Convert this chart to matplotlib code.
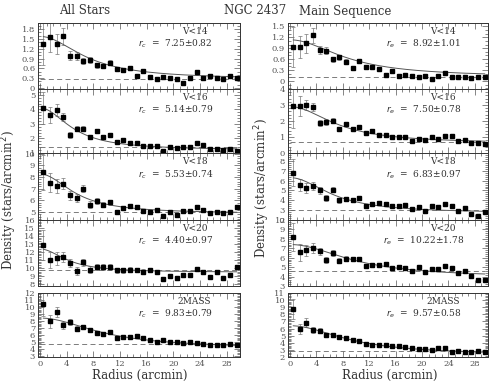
import numpy as np
import matplotlib
matplotlib.use("Agg")
import matplotlib.pyplot as plt
from matplotlib.ticker import MultipleLocator, AutoMinorLocator, FuncFormatter

# radial bins (arcmin)
radius = np.arange(30) + 0.5

# ---- All stars ----
all14 = [1.35, 1.56, 1.35, 1.58, 0.99, 0.97, 0.83, 0.86, 0.69, 0.68, 0.78, 0.58, 0.54, 0.61, 0.38,
         0.51, 0.34, 0.28, 0.33, 0.31, 0.28, 0.15, 0.32, 0.48, 0.32, 0.38, 0.31, 0.29, 0.36, 0.31]
all14_err = [0.65, 0.45, 0.3, 0.25, 0.13, 0.12, 0.1, 0.09, 0.08, 0.07, 0.07, 0.06, 0.06, 0.06, 0.05,
             0.05, 0.05, 0.04, 0.04, 0.04, 0.04, 0.03, 0.04, 0.04, 0.04, 0.04, 0.03, 0.03, 0.03, 0.03]
all16 = [4.12, 3.64, 3.95, 3.47, 2.24, 2.67, 2.67, 2.07, 2.48, 2.12, 2.27, 1.78, 1.88, 1.71, 1.71,
         1.47, 1.47, 1.47, 1.11, 1.40, 1.35, 1.42, 1.42, 1.66, 1.52, 1.30, 1.30, 1.23, 1.28, 1.11]
all16_err = [1.1, 0.55, 0.4, 0.3, 0.2, 0.18, 0.16, 0.14, 0.13, 0.12, 0.11, 0.1, 0.1, 0.09, 0.09,
             0.08, 0.08, 0.08, 0.07, 0.07, 0.07, 0.07, 0.07, 0.07, 0.06, 0.06, 0.06, 0.06, 0.06, 0.06]
all18 = [8.38, 7.50, 7.26, 7.43, 6.43, 6.20, 7.00, 5.63, 5.91, 5.63, 5.83, 5.00, 5.34, 5.48, 5.43,
         5.11, 4.97, 5.14, 4.63, 4.97, 4.69, 5.11, 5.11, 5.43, 5.20, 4.91, 4.97, 4.86, 4.97, 5.43]
all18_err = [1.5, 0.8, 0.6, 0.5, 0.4, 0.35, 0.3, 0.28, 0.25, 0.23, 0.22, 0.2, 0.19, 0.18, 0.17,
             0.16, 0.16, 0.15, 0.15, 0.14, 0.14, 0.14, 0.13, 0.13, 0.13, 0.12, 0.12, 0.12, 0.12, 0.12]
all20 = [12.9, 11.0, 11.27, 11.4, 10.65, 9.7, 10.73, 9.83, 10.16, 10.16, 10.16, 9.74, 9.74, 9.83, 9.74,
         9.6, 9.74, 9.6, 8.7, 9.1, 8.8, 9.2, 9.2, 9.9, 9.6, 8.93, 9.6, 8.8, 9.2, 10.16]
all20_err = [1.9, 1.0, 0.8, 0.65, 0.55, 0.5, 0.45, 0.4, 0.37, 0.34, 0.32, 0.3, 0.28, 0.27, 0.26,
             0.25, 0.24, 0.23, 0.22, 0.21, 0.21, 0.2, 0.2, 0.19, 0.19, 0.18, 0.18, 0.18, 0.17, 0.17]
all2m = [10.36, 7.94, 9.3, 7.38, 7.84, 6.84, 7.16, 6.62, 6.25, 6.16, 6.34, 5.56, 5.7, 5.7, 5.79,
         5.47, 5.24, 5.0, 5.19, 5.0, 4.97, 4.78, 4.97, 4.88, 4.64, 4.56, 4.52, 4.52, 4.64, 4.52]
all2m_err = [1.6, 0.9, 0.7, 0.5, 0.4, 0.35, 0.3, 0.27, 0.24, 0.22, 0.2, 0.18, 0.17, 0.16, 0.15,
             0.14, 0.14, 0.13, 0.12, 0.12, 0.12, 0.11, 0.11, 0.1, 0.1, 0.1, 0.1, 0.1, 0.09, 0.09]

# ---- Main sequence ----
ms14 = [0.94, 0.94, 1.03, 1.25, 0.85, 0.83, 0.59, 0.65, 0.53, 0.35, 0.55, 0.39, 0.39, 0.33, 0.16,
        0.28, 0.14, 0.16, 0.14, 0.10, 0.14, 0.05, 0.14, 0.23, 0.10, 0.10, 0.12, 0.09, 0.10, 0.10]
ms14_err = [0.55, 0.3, 0.25, 0.2, 0.12, 0.1, 0.08, 0.07, 0.06, 0.05, 0.05, 0.05, 0.04, 0.04, 0.03,
            0.03, 0.03, 0.03, 0.03, 0.02, 0.02, 0.02, 0.02, 0.02, 0.02, 0.02, 0.02, 0.02, 0.02, 0.02]
ms16 = [2.94, 2.94, 3.0, 2.86, 1.88, 1.94, 2.02, 1.47, 1.82, 1.51, 1.61, 1.27, 1.37, 1.12, 1.12,
        1.02, 1.02, 1.02, 0.75, 0.90, 0.82, 1.0, 0.90, 1.06, 1.06, 0.75, 0.82, 0.61, 0.60, 0.55]
ms16_err = [1.4, 0.6, 0.3, 0.25, 0.18, 0.16, 0.14, 0.12, 0.11, 0.1, 0.09, 0.08, 0.08, 0.07, 0.07,
            0.06, 0.06, 0.06, 0.05, 0.05, 0.05, 0.05, 0.05, 0.05, 0.05, 0.04, 0.04, 0.04, 0.04, 0.04]
ms18 = [6.82, 5.58, 5.24, 5.47, 5.0, 4.23, 5.07, 3.99, 4.13, 3.99, 4.23, 3.38, 3.66, 3.73, 3.66,
        3.45, 3.45, 3.5, 3.12, 3.32, 2.88, 3.45, 3.32, 3.62, 3.38, 2.88, 3.22, 2.65, 2.44, 2.78]
ms18_err = [1.4, 0.6, 0.5, 0.4, 0.35, 0.3, 0.27, 0.24, 0.22, 0.2, 0.19, 0.18, 0.17, 0.16, 0.15,
            0.14, 0.14, 0.13, 0.13, 0.12, 0.12, 0.12, 0.11, 0.11, 0.11, 0.1, 0.1, 0.1, 0.1, 0.1]
ms20 = [8.2, 6.6, 6.77, 7.02, 6.67, 5.77, 6.49, 5.7, 5.88, 5.88, 5.88, 5.16, 5.23, 5.23, 5.34,
        4.87, 5.05, 4.87, 4.62, 4.98, 4.44, 4.8, 4.8, 5.16, 4.91, 4.33, 4.62, 4.09, 3.66, 3.66]
ms20_err = [1.5, 0.9, 0.6, 0.5, 0.4, 0.35, 0.3, 0.27, 0.25, 0.23, 0.21, 0.2, 0.19, 0.18, 0.17,
            0.16, 0.16, 0.15, 0.15, 0.14, 0.14, 0.14, 0.13, 0.13, 0.13, 0.12, 0.12, 0.12, 0.12, 0.12]
ms2m = [8.77, 5.93, 6.85, 5.79, 5.7, 5.1, 5.1, 4.79, 4.66, 4.33, 4.2, 3.78, 3.74, 3.74, 3.74,
        3.56, 3.52, 3.42, 3.29, 3.1, 3.1, 3.0, 3.29, 3.2, 2.64, 2.83, 2.74, 2.64, 2.83, 2.64]
ms2m_err = [1.4, 0.7, 0.6, 0.4, 0.35, 0.3, 0.27, 0.24, 0.22, 0.2, 0.18, 0.16, 0.15, 0.14, 0.14,
            0.13, 0.12, 0.12, 0.11, 0.11, 0.1, 0.1, 0.1, 0.1, 0.09, 0.09, 0.09, 0.09, 0.09, 0.09]

# labels and King-profile fit parameters (background, central density, core radius)
band_labels = ["V<14", "V<16", "V<18", "V<20", "2MASS"]
rc_all = ["7.25$\\pm$0.82", "5.14$\\pm$0.79", "5.53$\\pm$0.74", "4.40$\\pm$0.97", "9.83$\\pm$0.79"]
rc_ms = ["8.92$\\pm$1.01", "7.50$\\pm$0.78", "6.83$\\pm$0.97", "10.22$\\pm$1.78", "9.57$\\pm$0.58"]
core_all = [7.25, 5.14, 5.53, 4.40, 9.83]
core_ms = [8.92, 7.50, 6.83, 10.22, 9.57]
fit_bg_all = [0.27, 1.2, 4.85, 9.5, 4.05]
fit_f0_all = [1.31, 2.9, 3.4, 2.9, 4.35]
fit_bg_ms = [0.11, 0.6, 2.7, 3.9, 2.3]
fit_f0_ms = [1.02, 2.3, 3.6, 3.5, 4.1]
field_all = [0.27, 1.42, 5.0, 9.83, 4.64]
field_ms = [0.10, 0.69, 2.98, 4.62, 2.9]

ylims_all = [(-0.03, 2.0), (1.0, 5.4), (4.3, 10.05), (7.8, 16.0), (2.8, 12.0)]
ylims_ms = [(-0.22, 1.6), (0.0, 4.0), (2.0, 8.8), (3.0, 10.0), (2.0, 11.0)]
ystep_all = [0.3, 1, 1, 1, 1]
ystep_ms = [0.3, 1, 1, 1, 1]

W, H = 491, 382
rows_px = [(22.7, 89), (89, 153), (153, 220), (220, 286), (293, 357)]
ink = "#333333"
serif = "DejaVu Serif"

fig = plt.figure(figsize=(W / 100, H / 100), dpi=100)


def make_panel(x0, x1, row, y, err, ylim, ystep, label, rctext, rc, bg, f0, field, rsub, bottom):
    top, bot = rows_px[row]
    ax = fig.add_axes([x0 / W, 1 - bot / H, (x1 - x0) / W, (bot - top) / H])
    ax.errorbar(radius, y, yerr=err, fmt="s", ms=2.4, color="black", ecolor="#777777",
                elinewidth=0.5, capsize=1.5, capthick=0.5)
    rr = np.linspace(0.5, 29.5, 200)
    ax.plot(rr, bg + f0 / (1 + (rr / rc) ** 2), color="#555555", lw=0.7)
    ax.plot([0, 29.5], [field, field], color="#666666", lw=0.6, ls=(0, (6, 4)))
    ax.set_xlim(-0.3, 30)
    ax.set_ylim(*ylim)
    ax.xaxis.set_major_locator(MultipleLocator(4))
    ax.xaxis.set_minor_locator(MultipleLocator(1))
    ax.yaxis.set_major_locator(MultipleLocator(ystep))
    ax.yaxis.set_minor_locator(AutoMinorLocator(3 if ystep == 0.3 else 5))
    ax.yaxis.set_major_formatter(FuncFormatter(lambda v, p: "%g" % round(v, 2)))
    ax.tick_params(which="both", direction="in", top=True, right=True, labelsize=6,
                   labelcolor="#555555", color="#555555", width=0.5, pad=2)
    ax.tick_params(which="major", length=4)
    ax.tick_params(which="minor", length=2)
    for sp in ax.spines.values():
        sp.set_linewidth(0.7)
        sp.set_color("#333333")
    if not bottom:
        ax.set_xticklabels([])
    for t in ax.get_yticklabels() + ax.get_xticklabels():
        t.set_family(serif)
    ax.text(0.775, 0.87, label, transform=ax.transAxes, ha="center", va="center",
            fontsize=6.5, family=serif, color=ink)
    ax.text(0.68, 0.68, "$r_" + rsub + "$  =  " + rctext, transform=ax.transAxes, ha="center",
            va="center", fontsize=6.5, family=serif, color=ink)
    return ax


all_y = [all14, all16, all18, all20, all2m]
all_e = [all14_err, all16_err, all18_err, all20_err, all2m_err]
ms_y = [ms14, ms16, ms18, ms20, ms2m]
ms_e = [ms14_err, ms16_err, ms18_err, ms20_err, ms2m_err]

for i in range(5):
    make_panel(38, 240, i, all_y[i], all_e[i], ylims_all[i], ystep_all[i], band_labels[i],
               rc_all[i], core_all[i], fit_bg_all[i], fit_f0_all[i], field_all[i], "c", i == 4)
    make_panel(288, 488, i, ms_y[i], ms_e[i], ylims_ms[i], ystep_ms[i], band_labels[i],
               rc_ms[i], core_ms[i], fit_bg_ms[i], fit_f0_ms[i], field_ms[i], "e", i == 4)

fig.text(85 / W, 1 - 11 / H, "All Stars", ha="center", va="center", fontsize=8.5, family=serif, color=ink)
fig.text(255 / W, 1 - 10 / H, "NGC 2437", ha="center", va="center", fontsize=8.5, family=serif, color=ink)
fig.text(345 / W, 1 - 11 / H, "Main Sequence", ha="center", va="center", fontsize=8.5, family=serif, color=ink)
fig.text(140 / W, 1 - 375 / H, "Radius (arcmin)", ha="center", va="center", fontsize=8.5, family=serif, color=ink)
fig.text(390 / W, 1 - 375 / H, "Radius (arcmin)", ha="center", va="center", fontsize=8.5, family=serif, color=ink)
fig.text(9 / W, 1 - 200 / H, "Density (stars/arcmin$^2$)", rotation=90, ha="center", va="center",
         fontsize=8.5, family=serif, color=ink)
fig.text(262 / W, 1 - 188 / H, "Density (stars/arcmin$^2$)", rotation=90, ha="center", va="center",
         fontsize=8.5, family=serif, color=ink)

fig.savefig("out.png", dpi=100)
